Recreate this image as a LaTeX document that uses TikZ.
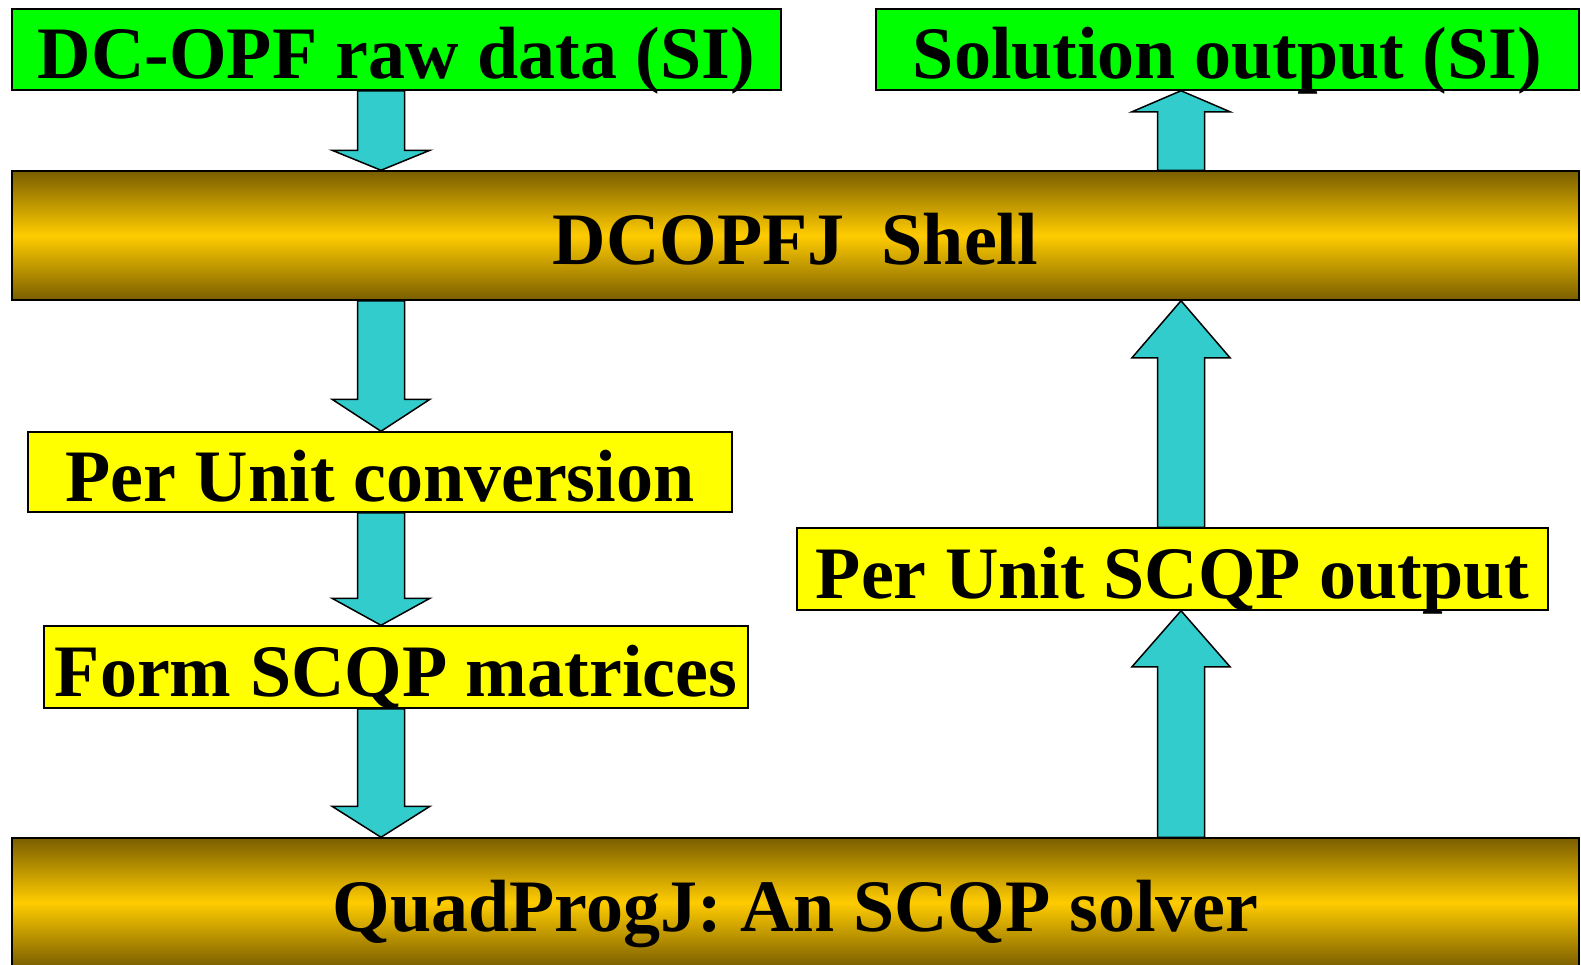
\documentclass[tikz,border=0pt]{standalone}
\usepackage{fontspec}
\setmainfont{Liberation Serif}
\usetikzlibrary{calc}

\definecolor{boxgreen}{RGB}{0,255,0}
\definecolor{boxyellow}{RGB}{255,255,0}
\definecolor{arrowcyan}{RGB}{51,204,204}
\definecolor{bargold}{RGB}{255,204,0}
\definecolor{bardark}{RGB}{122,94,0}

% block arrow from start to target, #1 = length of the head
\tikzset{fat/.style={draw=black,fill=arrowcyan,line width=1.5pt,
  to path={-- ($(\tikztostart)+(-23.5,0)$)
    -- ($(\tikztotarget)!#1!(\tikztostart)+(-23.5,0)$)
    -- ($(\tikztotarget)!#1!(\tikztostart)+(-49,0)$)
    -- (\tikztotarget)
    -- ($(\tikztotarget)!#1!(\tikztostart)+(49,0)$)
    -- ($(\tikztotarget)!#1!(\tikztostart)+(23.5,0)$)
    -- ($(\tikztostart)+(23.5,0)$) -- cycle}}}

\begin{document}
\begin{tikzpicture}[x=1pt,y=-1pt]
\tikzstyle{every node}=[font=\bfseries\fontsize{74}{80}\selectfont,inner sep=0pt,text height=58pt,text depth=0pt]
\tikzstyle{greenbox}=[draw=black,fill=boxgreen,line width=1.5pt]
\tikzstyle{yellowbox}=[draw=black,fill=boxyellow,line width=1.5pt]
\tikzstyle{goldbar}=[draw=black,line width=1.5pt,top color=bardark,bottom color=bardark,middle color=bargold]

\useasboundingbox (0,0) rectangle (1581,964);

\coordinate (lcol) at (381,0);
\coordinate (rcol) at (1181,0);

\node[greenbox,minimum width=769pt,minimum height=81pt] (raw) at (396.5,49.5) {DC-OPF raw data (SI)};
\node[greenbox,minimum width=703pt,minimum height=81pt] (sol) at (1227.5,49.5) {Solution output (SI)};
\node[goldbar,minimum width=1567pt,minimum height=129pt] (shell) at (795.5,235.5) {DCOPFJ\ \ Shell};
\node[yellowbox,minimum width=704pt,minimum height=80pt] (conv) at (380,472) {Per Unit conversion};
\node[yellowbox,minimum width=704pt,minimum height=82pt] (form) at (396,667) {Form SCQP matrices};
\node[yellowbox,minimum width=751pt,minimum height=82pt] (pout) at (1172.5,569) {Per Unit SCQP output};
\node[goldbar,minimum width=1567pt,minimum height=129pt] (quad) at (795.5,902.5) {QuadProgJ: An SCQP solver};

\path (raw.south -| lcol) edge[fat=20pt] (shell.north -| lcol);
\path (shell.south -| lcol) edge[fat=32pt] (conv.north -| lcol);
\path (conv.south -| lcol) edge[fat=27pt] (form.north -| lcol);
\path (form.south -| lcol) edge[fat=31pt] (quad.north -| lcol);
\path (quad.north -| rcol) edge[fat=56pt] (pout.south -| rcol);
\path (pout.north -| rcol) edge[fat=57pt] (shell.south -| rcol);
\path (shell.north -| rcol) edge[fat=21pt] (sol.south -| rcol);

\end{tikzpicture}
\end{document}
